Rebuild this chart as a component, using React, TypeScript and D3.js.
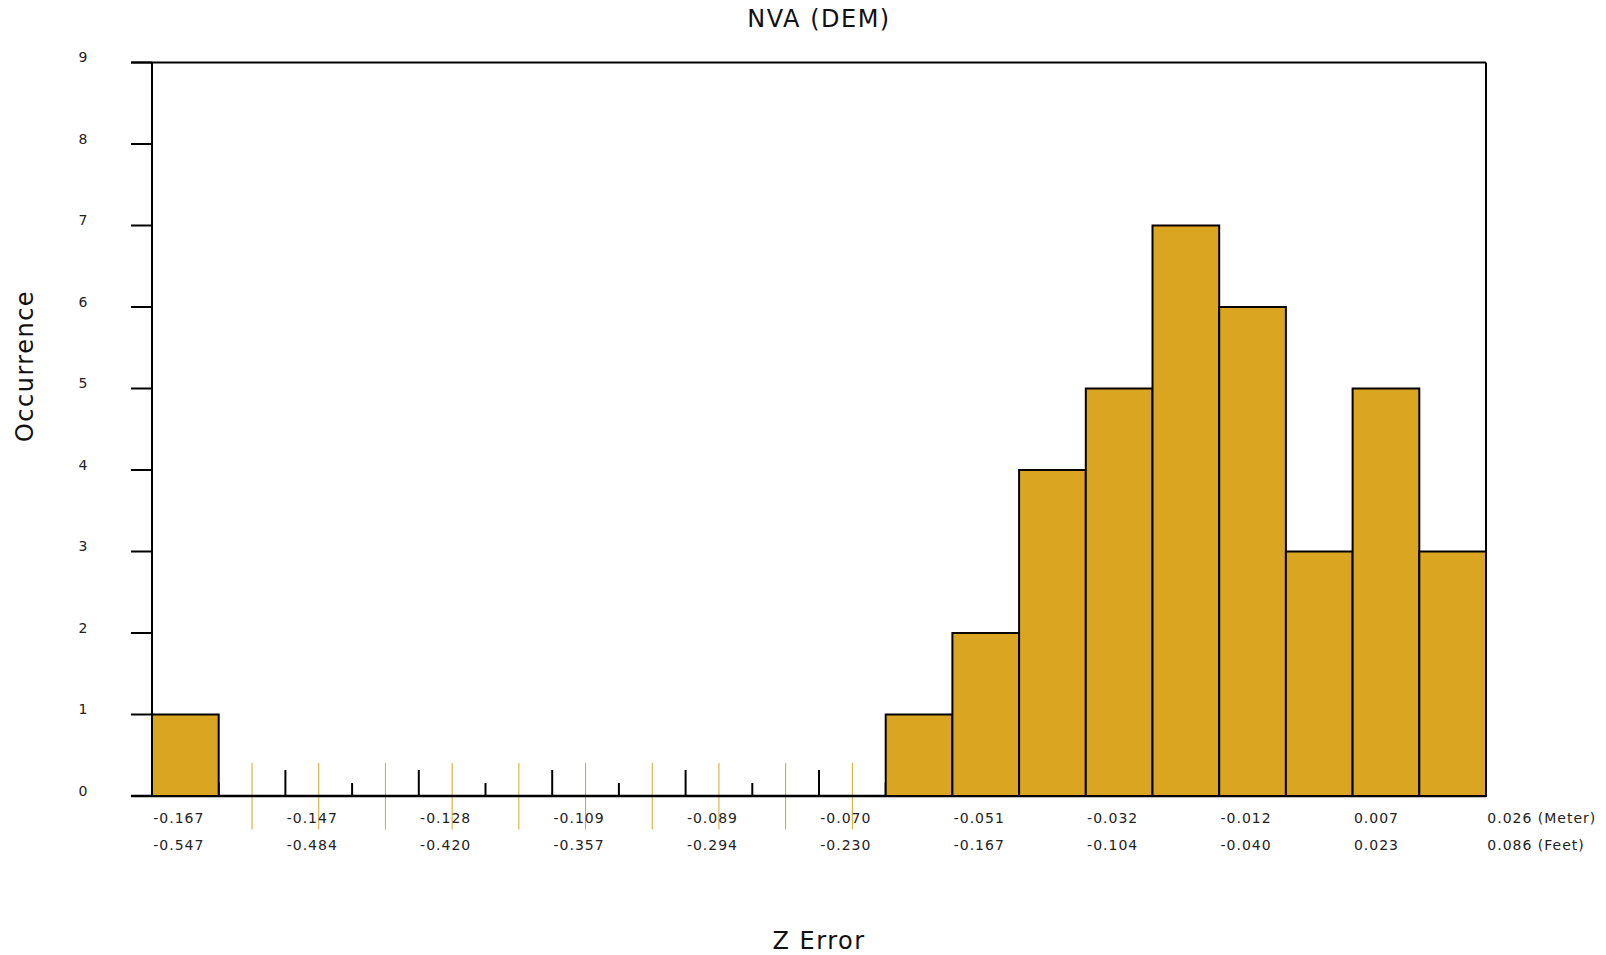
import React from "react";
import * as d3 from "d3";

const counts = [1, 0, 0, 0, 0, 0, 0, 0, 0, 0, 0, 1, 2, 4, 5, 7, 6, 3, 5, 3];
const meterLabels = ["-0.167", "-0.147", "-0.128", "-0.109", "-0.089", "-0.070", "-0.051", "-0.032", "-0.012", "0.007", "0.026 (Meter)"];
const feetLabels = ["-0.547", "-0.484", "-0.420", "-0.357", "-0.294", "-0.230", "-0.167", "-0.104", "-0.040", "0.023", "0.086 (Feet)"];
const yTicks = [0, 1, 2, 3, 4, 5, 6, 7, 8, 9];
const markerBins = [1.5, 2.5, 3.5, 4.5, 5.5, 6.5, 7.5, 8.5, 9.5, 10.5];

const W = 1606;
const H = 955;
const left = 152;
const right = 1486;
const top = 62.5;
const bottom = 796;
const FILL = "#DAA520";
const FONT = "'DejaVu Sans', Verdana, sans-serif";

export default function App() {
  const x = d3.scaleLinear().domain([0, counts.length]).range([left, right]);
  const y = d3.scaleLinear().domain([0, 9]).range([bottom, top]);
  const edges = d3.range(1, counts.length);

  return (
    <svg width={W} height={H} style={{ position: "absolute", left: 0, top: 0, background: "#fff" }} fontFamily={FONT}>
      <rect x={0} y={0} width={W} height={H} fill="#fff" />
      {/* title */}
      <text x={(left + right) / 2} y={27.3} textAnchor="middle" fontSize={24} letterSpacing={1.5} fill="#111">NVA (DEM)</text>
      <text x={(left + right) / 2} y={949} textAnchor="middle" fontSize={24} letterSpacing={1.5} fill="#111">Z Error</text>
      <text transform={`translate(33, 366) rotate(-90)`} textAnchor="middle" fontSize={24} letterSpacing={1.5} fill="#111">Occurrence</text>

      {/* y ticks and labels */}
      {yTicks.map((t) => (
        <g key={t}>
          <line x1={131} x2={left} y1={y(t)} y2={y(t)} stroke="#000" strokeWidth={2} />
          <text x={83} y={y(t) - 0.5} textAnchor="middle" fontSize={14} fill="#222">{t}</text>
        </g>
      ))}

      {/* orange markers */}
      {markerBins.map((b) => (
        <line key={b} x1={x(b)} x2={x(b)} y1={763} y2={829.5} stroke={FILL} strokeWidth={1} />
      ))}

      {/* bin edge ticks */}
      {edges.map((e) => (
        <line key={e} x1={x(e)} x2={x(e)} y1={bottom} y2={bottom - (e % 2 === 0 ? 26 : 13)} stroke="#000" strokeWidth={2} />
      ))}

      {/* frame */}
      <line x1={131} x2={right} y1={top} y2={top} stroke="#000" strokeWidth={2} />
      <line x1={left} x2={left} y1={top} y2={bottom} stroke="#000" strokeWidth={2} />
      <line x1={right} x2={right} y1={top} y2={bottom} stroke="#000" strokeWidth={2} />
      <line x1={131} x2={right} y1={bottom} y2={bottom} stroke="#000" strokeWidth={2.5} />

      {/* bars */}
      {counts.map((c, i) =>
        c > 0 ? (
          <rect key={i} x={x(i)} y={y(c)} width={x(i + 1) - x(i)} height={bottom - y(c)} fill={FILL} stroke="#000" strokeWidth={2} />
        ) : null
      )}

      {/* x labels */}
      {meterLabels.map((l, i) => (
        <text key={"m" + i} x={x(i * 2) + 1.3} y={822.7} fontSize={14} letterSpacing={1} fill="#222">{l}</text>
      ))}
      {feetLabels.map((l, i) => (
        <text key={"f" + i} x={x(i * 2) + 1.3} y={850} fontSize={14} letterSpacing={1} fill="#222">{l}</text>
      ))}
    </svg>
  );
}
